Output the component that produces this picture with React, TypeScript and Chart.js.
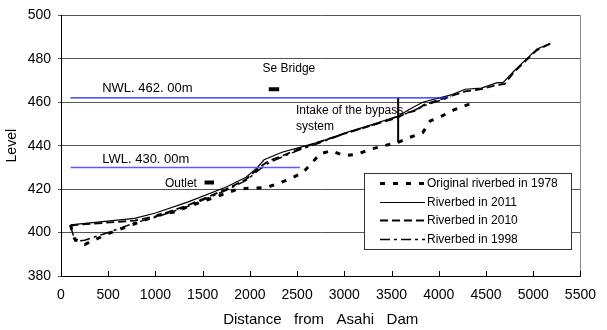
import React, { useEffect, useRef } from 'react';
import { Chart, registerables } from 'chart.js';

Chart.register(...registerables);

// ---- data ----
const dist1978 = [100, 145, 250, 500, 780, 1030, 1200, 1320, 1480, 1870, 2030, 2170, 2300, 2410, 2560, 2650, 2740, 2860, 3000, 3130, 3290, 3420, 3570, 3690, 3830, 3910, 4035, 4160, 4300, 4340];
const level1978 = [403.5, 397, 394.5, 399.5, 404, 408, 409.5, 411.5, 414, 420, 420.5, 420.7, 422.6, 424.4, 427.6, 431.7, 436.2, 437.7, 435.4, 436, 438.5, 440, 441.5, 443.8, 446, 451.4, 453.7, 456.5, 458.8, 459];

const dist2011 = [100, 780, 1000, 1340, 1750, 1960, 2080, 2150, 2340, 2510, 2720, 3000, 3300, 3570, 3720, 3830, 4140, 4280, 4450, 4620, 4680, 4800, 4930, 5040, 5180];
const level2011 = [403.5, 406.5, 409, 414, 421, 425.5, 430, 433.5, 437, 439, 441.5, 445.8, 449.8, 453.7, 457.5, 460, 463.5, 466, 466.5, 469, 469, 474.5, 480, 484.5, 487];

const dist2010 = [100, 150, 780, 1000, 1340, 1750, 1960, 2100, 2200, 2350, 2520, 2720, 3000, 3300, 3570, 3650, 3750, 3850, 4140, 4280, 4450, 4620, 4700, 4800, 4930, 5040, 5180];
const level2010 = [403, 403.5, 405.5, 407.5, 412.5, 420, 424.5, 430, 433, 435.5, 438.5, 441.5, 445.5, 449.5, 453, 455, 456, 459, 463, 465, 466, 468, 468.5, 474, 479.5, 484, 487];

const dist1998 = [100, 150, 250, 500, 780, 1000, 1340, 1750, 1960, 2100, 2200, 2350, 2520, 2720, 3000, 3300, 3570, 3700, 3850, 4130];
const level1998 = [403, 396, 396.5, 400, 404.5, 407, 412, 419.5, 424, 429, 432, 435, 438, 441, 445.5, 449.5, 453.5, 455.5, 458.5, 462.5];

const nwlDist = [100, 4100];
const nwlLevel = 462;
const lwlDist = [100, 2530];
const lwlLevel = 430;
const intakeDist = 3570;
const intakeLevels = [441.5, 462];
const bridgeDist = [2200, 2310];
const bridgeLevel = 466;
const outletDist = [1520, 1620];
const outletLevel = 423;

const seriesNames = ['Original riverbed in 1978', 'Riverbed in 2011', 'Riverbed in 2010', 'Riverbed in 1998'];

const xMin = 0, xMax = 5500, xStep = 500;
const yMin = 380, yMax = 500, yStep = 20;

// annotation texts (data coordinates)
const notes = [
  { text: 'NWL. 462. 00m', x: 436, y: 466.3, size: 13 },
  { text: 'LWL. 430. 00m', x: 436, y: 433.8, size: 13 },
  { text: 'Outlet', x: 1100, y: 422.6, size: 12 },
  { text: 'Se Bridge', x: 2134, y: 475.3, size: 12 },
  { text: 'Intake of the bypass', x: 2487, y: 456, size: 12 },
  { text: 'system', x: 2487, y: 448.7, size: 12 },
];

const zip = (xs: number[], ys: number[]) => xs.map((x, i) => ({ x, y: ys[i] }));
const flat = (xs: number[], y: number) => xs.map((x) => ({ x, y }));

const SANS = '"Liberation Sans", Arial, sans-serif';

export default function App() {
  const ref = useRef<HTMLCanvasElement | null>(null);

  useEffect(() => {
    if (!ref.current) return;

    const frame = {
      id: 'frame',
      afterDatasetsDraw(chart: any) {
        const { ctx, chartArea } = chart;
        const xs = chart.scales.x;
        ctx.save();
        // right border
        ctx.strokeStyle = '#8a8a8a';
        ctx.lineWidth = 1;
        ctx.beginPath();
        ctx.moveTo(Math.round(chartArea.right) + 0.5, chartArea.top);
        ctx.lineTo(Math.round(chartArea.right) + 0.5, chartArea.bottom);
        ctx.stroke();
        // inside x tick marks
        ctx.strokeStyle = '#000';
        xs.ticks.forEach((t: any) => {
          const px = Math.round(xs.getPixelForValue(t.value)) + 0.5;
          ctx.beginPath();
          ctx.moveTo(px, chartArea.bottom);
          ctx.lineTo(px, chartArea.bottom - 5);
          ctx.stroke();
        });
        // text notes
        ctx.fillStyle = '#000';
        ctx.textAlign = 'left';
        ctx.textBaseline = 'middle';
        notes.forEach((n) => {
          ctx.font = n.size + 'px ' + SANS;
          ctx.fillText(n.text, chart.scales.x.getPixelForValue(n.x), chart.scales.y.getPixelForValue(n.y));
        });
        // legend
        const x0 = 364, y0 = 173, w = 207, h = 76;
        ctx.fillStyle = '#fff';
        ctx.fillRect(x0, y0, w, h);
        ctx.strokeStyle = '#333';
        ctx.lineWidth = 1;
        ctx.strokeRect(x0 + 0.5, y0 + 0.5, w, h);
        const dsets = chart.data.datasets.filter((d: any) => d.inLegend);
        dsets.forEach((d: any, i: number) => {
          const y = Math.round(y0 + 10 + i * 18.6) + 0.5;
          ctx.save();
          ctx.strokeStyle = d.borderColor;
          ctx.lineWidth = d.borderWidth;
          ctx.setLineDash(d.borderDash || []);
          ctx.beginPath();
          ctx.moveTo(x0 + 16, y);
          ctx.lineTo(x0 + 61, y);
          ctx.stroke();
          ctx.restore();
          ctx.fillStyle = '#000';
          ctx.font = '12px ' + SANS;
          ctx.textBaseline = 'middle';
          ctx.fillText(d.label, x0 + 63, y);
        });
        ctx.restore();
      },
    };

    const line = (label: string, data: any[], color: string, width: number, dash: number[], inLegend: boolean) => ({
      label,
      data,
      borderColor: color,
      backgroundColor: color,
      borderWidth: width,
      borderDash: dash,
      pointRadius: 0,
      tension: 0,
      fill: false,
      inLegend,
    });

    const tickFont = { family: SANS, size: 14 };

    const chart = new Chart(ref.current, {
      type: 'line',
      data: {
        datasets: [
          line('NWL', flat(nwlDist, nwlLevel), '#2020ff', 1.3, [], false),
          line('LWL', flat(lwlDist, lwlLevel), '#5a5aff', 1.5, [], false),
          line('Intake', [{ x: intakeDist, y: intakeLevels[0] }, { x: intakeDist, y: intakeLevels[1] }], '#000', 2, [], false),
          line('Bridge', flat(bridgeDist, bridgeLevel), '#000', 4, [], false),
          line('Outlet', flat(outletDist, outletLevel), '#000', 4, [], false),
          line(seriesNames[0], zip(dist1978, level1978), '#000', 3, [5, 8], true),
          line(seriesNames[1], zip(dist2011, level2011), '#000', 1.2, [], true),
          line(seriesNames[2], zip(dist2010, level2010), '#000', 1.8, [8, 4], true),
          line(seriesNames[3], zip(dist1998, level1998), '#000', 1.5, [10, 4, 3, 4], true),
        ] as any,
      },
      options: {
        animation: false,
        responsive: false,
        devicePixelRatio: 1,
        layout: { padding: { top: 14, right: 16, left: 0, bottom: 0 } },
        plugins: { legend: { display: false }, tooltip: { enabled: false } },
        scales: {
          x: {
            type: 'linear',
            min: xMin,
            max: xMax,
            afterFit: (s: any) => { s.height = 54; },
            ticks: { stepSize: xStep, color: '#000', padding: 11, maxRotation: 0, font: tickFont, callback: (v: any) => String(v) },
            grid: { display: true, drawOnChartArea: false, drawTicks: false },
            border: { display: true, color: '#000', width: 1 },
            title: { display: true, text: 'Distance   from   Asahi   Dam', color: '#000', font: { family: SANS, size: 15 }, padding: { top: 0, bottom: 1 } },
          },
          y: {
            min: yMin,
            max: yMax,
            afterFit: (s: any) => { s.width = 61; },
            ticks: { stepSize: yStep, color: '#000', padding: 7, font: tickFont, callback: (v: any) => String(v) },
            grid: { color: '#555', lineWidth: 1, drawTicks: true, tickLength: 3 },
            border: { display: true, color: '#000', width: 1 },
            title: { display: true, text: 'Level', color: '#000', font: { family: SANS, size: 14 }, padding: { top: 4, bottom: 0 } },
          },
        },
      } as any,
      plugins: [frame],
    });

    return () => chart.destroy();
  }, []);

  return (
    <div style={{ position: 'absolute', left: 0, top: 0, width: 607, height: 330, background: '#fff' }}>
      <canvas ref={ref} width={607} height={330} style={{ display: 'block' }} />
    </div>
  );
}
